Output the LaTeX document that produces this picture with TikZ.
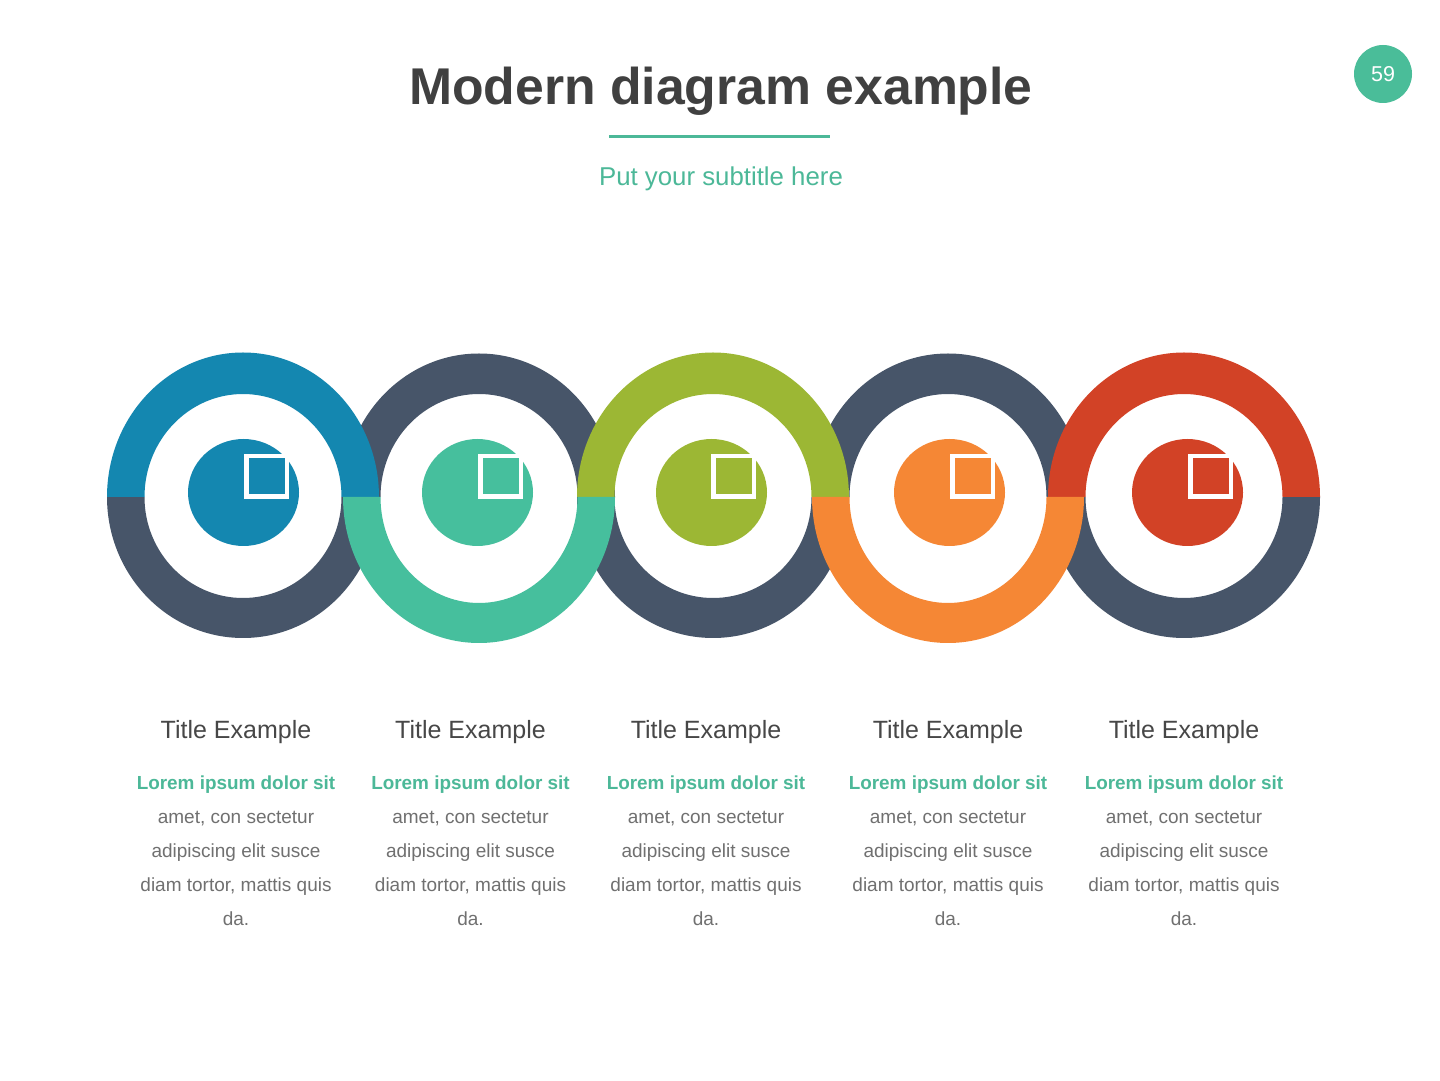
\documentclass[tikz,border=0pt]{standalone}
\usepackage{fontspec}
\setmainfont{Liberation Sans}
\definecolor{cblue}{HTML}{1487B0}
\definecolor{cgray}{HTML}{475569}
\definecolor{cteal}{HTML}{46BF9D}
\definecolor{cgreen}{HTML}{9CB734}
\definecolor{corange}{HTML}{F58735}
\definecolor{cred}{HTML}{D24226}
\definecolor{pageteal}{HTML}{4ABD99}
\definecolor{subteal}{HTML}{4CB898}
\definecolor{titledark}{HTML}{404040}
\definecolor{titlegray}{HTML}{474747}
\definecolor{bodygray}{HTML}{707070}
\begin{document}
\begin{tikzpicture}[x=1pt,y=1pt,
  sq/.style={draw=white, line width=4.5pt},
  ttl/.style={font=\fontsize{25}{28}\selectfont, text=titlegray, anchor=base, inner sep=0pt},
  lor/.style={font=\bfseries\fontsize{18.9}{22}\selectfont, text=subteal, anchor=base, inner sep=0pt},
  bod/.style={font=\fontsize{19}{22}\selectfont, text=bodygray, anchor=base, inner sep=0pt}]
\fill[white] (0,0) rectangle (1440,1080);
\useasboundingbox (0,0) rectangle (1440,1080);

% header
\node[anchor=base, font=\bfseries\fontsize{51.7}{60}\selectfont, text=titledark, inner sep=0pt] (title) at (721,975) {Modern diagram example};
\coordinate (ulL) at (609,943);
\coordinate (ulR) at (830,943);
\draw[subteal, line width=3pt] (ulL) -- (ulR);
\node[anchor=base, font=\fontsize{25.8}{30}\selectfont, text=subteal, inner sep=0pt] (subtitle) at (721,894) {Put your subtitle here};
\node[circle, fill=pageteal, minimum size=58pt, inner sep=0pt, text=white, font=\fontsize{21.5}{24}\selectfont] (pagenum) at (1383,1006) {59};

% gray halves: bottoms of odd rings
\foreach \cx in {243,713,1184} {
  \fill[cgray] (\cx+136,583) arc[start angle=0,end angle=-180,x radius=136pt,y radius=141pt]
    -- (\cx-98.5,583) arc[start angle=180,end angle=360,x radius=98.5pt,y radius=101pt] -- cycle;
}
% gray halves: tops of even rings
\foreach \cx in {479,948} {
  \fill[cgray] (\cx+136,583) arc[start angle=0,end angle=180,x radius=136pt,y radius=143.5pt]
    -- (\cx-98.5,583) arc[start angle=180,end angle=0,x radius=98.5pt,y radius=103pt] -- cycle;
}
% coloured tops of odd rings
\foreach \cx/\col in {243/cblue,713/cgreen,1184/cred} {
  \fill[\col] (\cx+136,583) arc[start angle=0,end angle=180,x radius=136pt,y radius=144.5pt]
    -- (\cx-98.5,583) arc[start angle=180,end angle=0,x radius=98.5pt,y radius=103pt] -- cycle;
}
% coloured bottoms of even rings
\foreach \cx/\col in {479/cteal,948/corange} {
  \fill[\col] (\cx+136,583) arc[start angle=0,end angle=-180,x radius=136pt,y radius=146pt]
    -- (\cx-98.5,583) arc[start angle=180,end angle=360,x radius=98.5pt,y radius=106pt] -- cycle;
}
% inner discs and icon squares
\foreach \dx/\sx/\col in {243.5/244/cblue,477.5/478/cteal,711.5/711/cgreen,949.5/950/corange,1187.5/1188/cred} {
  \fill[\col] (\dx,587.5) ellipse[x radius=55.5pt,y radius=53.5pt];
  \draw[sq] (\sx+2.25,583.25) rectangle ++(40.5,40.5);
}

% text columns
\foreach \x [count=\i] in {236,470.5,706,948,1184} {
  \node[ttl] (ttl\i) at (\x,342) {Title Example};
  \node[lor] (lor\i) at (\x,291) {Lorem ipsum dolor sit};
  \node[bod] (amet\i) at (\x,257) {amet, con sectetur};
  \node[bod] (adip\i) at (\x,223) {adipiscing elit susce};
  \node[bod] (diam\i) at (\x,189) {diam tortor, mattis quis};
  \node[bod] (da\i) at (\x,155) {da.};
}
\end{tikzpicture}
\end{document}
